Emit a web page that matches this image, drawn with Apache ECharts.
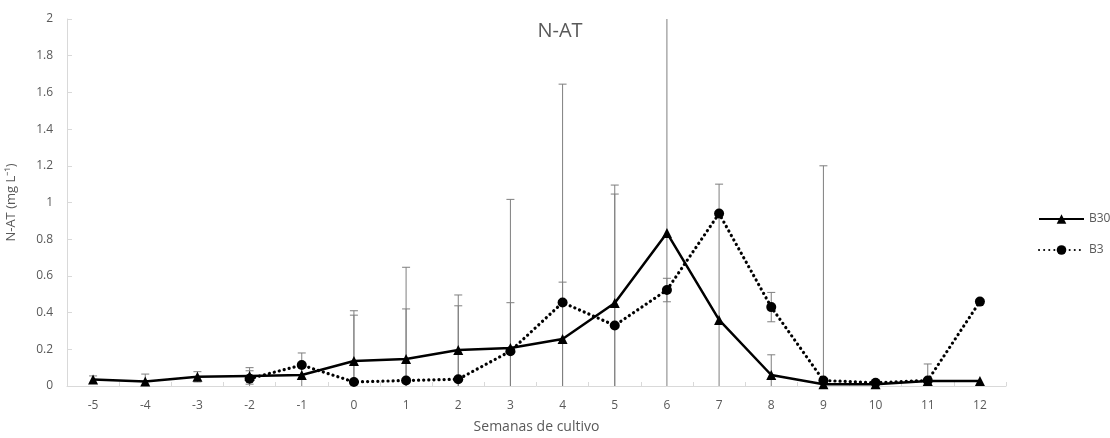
<!DOCTYPE html>
<html><head><meta charset="utf-8">
<script src="https://cdn.jsdelivr.net/npm/echarts@6/dist/echarts.min.js"></script>
<style>html,body{margin:0;padding:0;background:#fff}#c{width:1110px;height:438px}</style>
</head><body><div id="c"></div>
<script>
var categories = ['-5','-4','-3','-2','-1','0','1','2','3','4','5','6','7','8','9','10','11','12'];
var b30 = [0.035,0.025,0.05,0.055,0.06,0.136,0.147,0.196,0.207,0.256,0.452,0.834,0.36,0.06,0.01,0.01,0.027,0.027];
var b3  = [null,null,null,0.04,0.114,0.022,0.03,0.037,0.19,0.455,0.33,0.523,0.94,0.43,0.03,0.018,0.03,0.46];
var b30Sd = [0.02,0.04,0.028,0.045,0.12,0.25,0.5,0.3,0.81,0.31,0.594,1.5,0.74,0.11,0,0,0.093,0];
var b3Sd  = [0,0,0,0.043,0,0.388,0.39,0.4,0.264,1.19,0.765,0.064,0,0.08,1.17,0,0,0];
var yTicks = [0,0.2,0.4,0.6,0.8,1,1.2,1.4,1.6,1.8,2];

function errData(vals, sds){
  var out=[];
  for(var i=0;i<vals.length;i++){
    if(vals[i]==null||!sds[i]) continue;
    out.push([i, vals[i]-sds[i], vals[i]+sds[i]]);
  }
  return out;
}
function renderErr(params, api){
  var x=api.value(0), lo=api.value(1), hi=api.value(2);
  var top=api.coord([x,Math.min(hi,2.2)]);
  var bot=api.coord([x,Math.max(lo,0)]);
  var hw=4, ch=[];
  var st={stroke:'#7f7f7f',lineWidth:1};
  ch.push({type:'line',shape:{x1:top[0],y1:top[1],x2:bot[0],y2:bot[1]},style:st});
  if(hi<=2) ch.push({type:'line',shape:{x1:top[0]-hw,y1:top[1],x2:top[0]+hw,y2:top[1]},style:st});
  if(lo>0) ch.push({type:'line',shape:{x1:bot[0]-hw,y1:bot[1],x2:bot[0]+hw,y2:bot[1]},style:st});
  return {type:'group',children:ch};
}
var txt='#595959', ax='#d9d9d9', font='"Open Sans", sans-serif';
var chart=echarts.init(document.getElementById('c'));
chart.setOption({
  animation:false,
  title:{text:'N-AT',left:555,textAlign:'center',top:16,textStyle:{color:txt,fontSize:20,fontWeight:'normal',fontFamily:font}},
  grid:{left:67,right:104,top:19,bottom:52,outerBoundsMode:'none',containLabel:false},
  legend:{orient:'vertical',left:1033,top:208,itemWidth:45,itemHeight:12,itemGap:19,
    textStyle:{color:txt,fontSize:12,fontFamily:font},
    data:['B30','B3']},
  xAxis:{type:'category',data:categories,boundaryGap:true,
    name:'Semanas de cultivo',nameLocation:'middle',nameGap:34,
    nameTextStyle:{color:txt,fontSize:14,fontFamily:font},
    axisLine:{lineStyle:{color:ax,width:1}},
    axisTick:{show:true,inside:true,length:4,lineStyle:{color:ax}},
    axisLabel:{color:txt,fontSize:12,fontFamily:font,margin:14}},
  yAxis:{type:'value',min:0,max:2,interval:0.2,
    name:'N-AT (mg L⁻¹)',nameLocation:'middle',nameGap:49,
    nameTextStyle:{color:txt,fontSize:13,fontFamily:font},
    axisLine:{show:true,lineStyle:{color:ax,width:1}},
    axisTick:{show:true,inside:true,length:5,lineStyle:{color:ax}},
    splitLine:{show:false},
    axisLabel:{color:txt,fontSize:12,fontFamily:font,margin:14,
      formatter:function(v){var i=yTicks.indexOf(Math.round(v*10)/10);return i>=0?String(yTicks[i]):'';}}},
  series:[
    {type:'custom',name:'errB30',renderItem:renderErr,data:errData(b30,b30Sd),encode:{x:0,y:[1,2]},clip:true,z:1,silent:true},
    {type:'custom',name:'errB3',renderItem:renderErr,data:errData(b3,b3Sd),encode:{x:0,y:[1,2]},clip:true,z:1,silent:true},
    {type:'line',name:'B30',data:b30,symbol:'triangle',symbolSize:10,z:3,
      itemStyle:{color:'#000'},lineStyle:{color:'#000',width:2.5}},
    {type:'line',name:'B3',data:b3,symbol:'circle',symbolSize:10,z:3,
      itemStyle:{color:'#000'},lineStyle:{color:'#000',width:3.2,type:[0.1,5],cap:'round'}}
  ]
});
</script></body></html>
